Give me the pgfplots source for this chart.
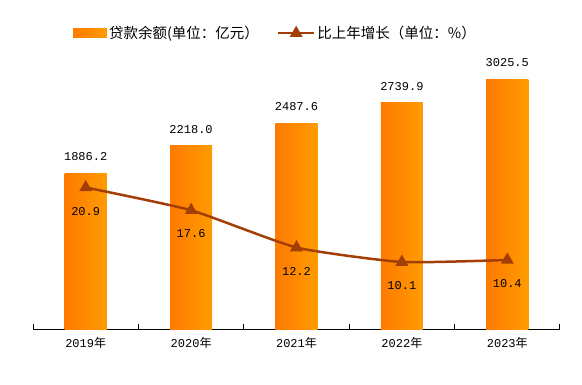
\documentclass[border=0pt]{standalone}
\usepackage{pgfplots}
\pgfplotsset{compat=1.18}
\usepackage{fontspec}
\setmainfont{Liberation Mono}
\newfontfamily\cjk{Noto Sans CJK SC}
\definecolor{barA}{HTML}{FF7A00}
\definecolor{barB}{HTML}{FF9C00}
\definecolor{lineC}{HTML}{A33F06}
\newcommand{\numfont}{\fontsize{12}{14}\selectfont}
\newcommand{\cjkfont}{\cjk\fontsize{14.5}{16}\selectfont}
\pgfplotsset{mylinelegend/.style={legend image code/.code={\draw[##1,mark repeat=2,mark phase=2] plot coordinates {(0pt,0pt) (18pt,0pt) (36pt,0pt)};}},
  mybar/.style={ybar, bar width=0.4, draw=none, left color=barA, right color=barB,
  nodes near coords, point meta=y,
  nodes near coords style={black, font=\numfont, yshift=9pt,
    /pgf/number format/.cd, fixed, fixed zerofill, precision=1, 1000 sep={}, assume math mode=true},
  legend image code/.code={\fill[left color=barA, right color=barB] (0pt,-4.5pt) rectangle (34pt,4.5pt);}}}
\begin{document}
\begin{tikzpicture}
\useasboundingbox (-33pt,-55pt) rectangle (549pt,329pt);
\begin{axis}[
  scale only axis, width=527pt, height=290pt,
  xmin=-0.5, xmax=4.5, ymin=0, ymax=3511,
  axis y line=none, axis x line*=bottom,
  axis line style={black, line width=1pt},
  xtick={0,1,2,3,4},
  xticklabels={2019{\cjk 年},2020{\cjk 年},2021{\cjk 年},2022{\cjk 年},2023{\cjk 年}},
  major x tick style={draw=none},
  minor xtick={-0.5,0.5,1.5,2.5,3.5,4.5},
  minor tick length=5pt, xtick align=inside,
  minor x tick style={black, line width=1pt},
  xticklabel style={font=\numfont, yshift=-5pt},
  legend style={at={(0.46,1.02)}, anchor=center, draw=none, fill=none,
    font=\cjkfont, legend columns=2,
    /tikz/every even column/.append style={column sep=16pt}},
  legend cell align=left,
]
\addplot[mybar] coordinates {(0,1886.2)};
\addlegendentry{贷款余额(单位：亿元）}
\addplot[mybar, forget plot] coordinates {(1,2218.0)};
\addplot[mybar, forget plot] coordinates {(2,2487.6)};
\addplot[mybar, forget plot] coordinates {(3,2739.9)};
\addplot[mybar, forget plot] coordinates {(4,3025.5)};
\addlegendimage{lineC, line width=2.5pt, mark=triangle*, mark size=5pt, mylinelegend}
\addlegendentry{比上年增长（单位：\%）}
\end{axis}
\begin{axis}[
  scale only axis, width=527pt, height=290pt,
  xmin=-0.5, xmax=4.5, ymin=0.4, ymax=42.4,
  hide axis,
]
\addplot[lineC, line width=2.5pt, mark=triangle*, mark size=5pt, smooth, tension=0.3,
  nodes near coords, point meta=y,
  nodes near coords style={black, anchor=north, yshift=-15pt, font=\numfont,
    /pgf/number format/.cd, fixed, fixed zerofill, precision=1, assume math mode=true}]
  coordinates {(0,20.9) (1,17.6) (2,12.2) (3,10.1) (4,10.4)};
\end{axis}
\end{tikzpicture}
\end{document}
